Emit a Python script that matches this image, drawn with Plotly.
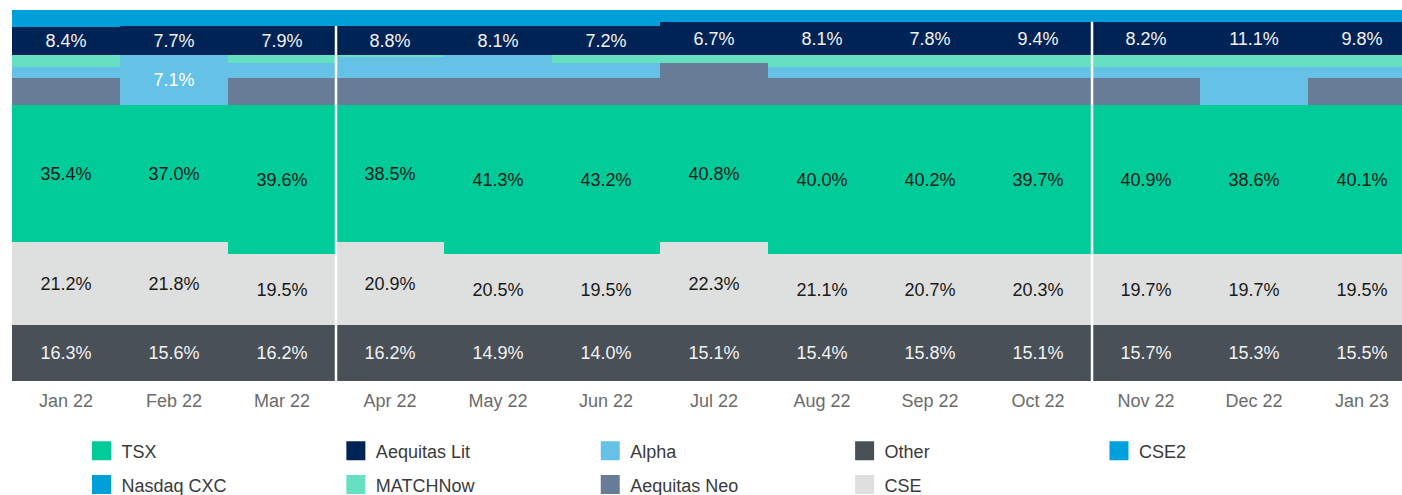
import plotly.graph_objects as go

months = ["Jan 22", "Feb 22", "Mar 22", "Apr 22", "May 22", "Jun 22", "Jul 22",
          "Aug 22", "Sep 22", "Oct 22", "Nov 22", "Dec 22", "Jan 23"]

# segment heights as drawn (share of the visible column, %)
other = [15.1] * 13
cse = [22.4, 22.4, 19.1, 22.4, 19.1, 19.1, 22.4, 19.1, 19.1, 19.1, 19.1, 19.1, 19.1]
tsx = [36.9, 36.9, 40.2, 36.9, 40.2, 40.2, 36.9, 40.2, 40.2, 40.2, 40.2, 40.2, 40.2]
aequitas_neo = [7.3, 0.0, 7.3, 7.3, 7.3, 7.3, 11.3, 7.3, 7.3, 7.3, 7.3, 0.0, 7.3]
alpha = [3.0, 13.5, 4.0, 5.7, 6.2, 4.0, 0.0, 3.0, 3.0, 3.0, 3.0, 10.2, 3.0]
matchnow = [3.2, 0.0, 2.2, 0.5, 0.0, 2.2, 2.2, 3.2, 3.2, 3.2, 3.2, 3.2, 3.2]
aequitas_lit = [7.5, 7.8, 7.8, 7.8, 7.8, 7.8, 8.9, 8.9, 8.9, 8.9, 8.9, 8.9, 8.9]
nasdaq_cxc = [4.6, 4.3, 4.3, 4.3, 4.3, 4.3, 3.2, 3.2, 3.2, 3.2, 3.2, 3.2, 3.2]
cse2 = [0.0] * 13

# printed data labels (%)
other_lbl = [16.3, 15.6, 16.2, 16.2, 14.9, 14.0, 15.1, 15.4, 15.8, 15.1, 15.7, 15.3, 15.5]
cse_lbl = [21.2, 21.8, 19.5, 20.9, 20.5, 19.5, 22.3, 21.1, 20.7, 20.3, 19.7, 19.7, 19.5]
tsx_lbl = [35.4, 37.0, 39.6, 38.5, 41.3, 43.2, 40.8, 40.0, 40.2, 39.7, 40.9, 38.6, 40.1]
alpha_lbl = [None, 7.1, None, None, None, None, None, None, None, None, None, None, None]
lit_lbl = [8.4, 7.7, 7.9, 8.8, 8.1, 7.2, 6.7, 8.1, 7.8, 9.4, 8.2, 11.1, 9.8]

FONT = "Liberation Sans, Arial, sans-serif"
C = {
    "TSX": "#00CB99", "Aequitas Lit": "#002355", "Alpha": "#66C1E6", "Other": "#495057",
    "CSE2": "#00A0DC", "Nasdaq CXC": "#009FDA", "MATCHNow": "#66E0C2",
    "Aequitas Neo": "#687C98", "CSE": "#DEDFDF",
}

def fmt(vals):
    return ["" if v is None else f"{v:.1f}%" for v in vals]

stack = [
    ("Other", other, fmt(other_lbl), "#F2F2F2"),
    ("CSE", cse, fmt(cse_lbl), "#1A1A1A"),
    ("TSX", tsx, fmt(tsx_lbl), "#1A1A1A"),
    ("Aequitas Neo", aequitas_neo, None, None),
    ("Alpha", alpha, fmt(alpha_lbl), "#FFFFFF"),
    ("MATCHNow", matchnow, None, None),
    ("Aequitas Lit", aequitas_lit, fmt(lit_lbl), "#F2F2F2"),
    ("Nasdaq CXC", nasdaq_cxc, None, None),
    ("CSE2", cse2, None, None),
]

fig = go.Figure()
for name, vals, txt, tcol in stack:
    kw = {}
    if txt is not None:
        kw = dict(text=txt, textposition="inside", insidetextanchor="middle",
                  textangle=0, constraintext="none",
                  textfont=dict(family=FONT, size=18, color=tcol))
    fig.add_trace(go.Bar(x=months, y=vals, name=name, marker=dict(color=C[name], line=dict(width=0)),
                         showlegend=False, hoverinfo="skip", **kw))

# legend entries (two rows)
row1 = ["TSX", "Aequitas Lit", "Alpha", "Other", "CSE2"]
row2 = ["Nasdaq CXC", "MATCHNow", "Aequitas Neo", "CSE"]
for lg, names in (("legend", row1), ("legend2", row2)):
    for n in names:
        fig.add_trace(go.Scatter(x=[None], y=[None], mode="markers", name=n, legend=lg,
                                 marker=dict(symbol="square", size=16, color=C[n],
                                             line=dict(color=C[n], width=3))))

# white separators at quarter boundaries
for i in (3, 10):
    top = sum(s[1][i] for s in stack[:7])
    fig.add_shape(type="line", xref="x", yref="y", x0=i - 0.5, x1=i - 0.5, y0=0, y1=top,
                  line=dict(color="white", width=2.5), layer="above")

legend_common = dict(orientation="h", xref="paper", yref="paper", xanchor="left", yanchor="middle",
                     x=0.05, entrywidthmode="fraction", entrywidth=0.183,
                     font=dict(family=FONT, size=18, color="#3A3A3A"),
                     bgcolor="rgba(0,0,0,0)", borderwidth=0, traceorder="normal")

fig.update_layout(
    width=1402, height=495,
    margin=dict(l=12, r=0, t=10, b=114, autoexpand=False),
    barmode="stack", bargap=0,
    plot_bgcolor="white", paper_bgcolor="white",
    font=dict(family=FONT),
    xaxis=dict(range=[-0.5, 12.37], showgrid=False, zeroline=False, showline=False, ticks="",
               ticklabelstandoff=7,
               tickfont=dict(family=FONT, size=18, color="#6B6B6B"), fixedrange=True),
    yaxis=dict(range=[0, 100], visible=False, fixedrange=True),
    legend=dict(y=-0.189, **legend_common),
    legend2=dict(y=-0.28, **legend_common),
    showlegend=True,
)

fig.write_html("out.html")
